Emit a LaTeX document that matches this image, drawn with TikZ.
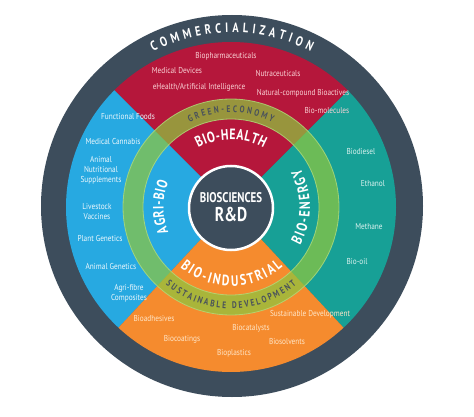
\documentclass[tikz,border=0pt]{standalone}
\usepackage{fontspec}
\setmainfont{PT Sans}
\newfontfamily\cond[FakeStretch=0.85]{PT Sans}
\newfontfamily\condb[FakeStretch=0.78]{PT Sans}
\usetikzlibrary{decorations.text}
\definecolor{slate}{HTML}{3D4D5C}
\definecolor{hred}{HTML}{B5173B}
\definecolor{ablue}{HTML}{27A9E1}
\definecolor{eteal}{HTML}{17A096}
\definecolor{iorange}{HTML}{F58B2E}
\definecolor{ringgreen}{HTML}{8DC63F}
\definecolor{ringedge}{HTML}{B2DC7C}
\definecolor{tred}{HTML}{FAD3D6}
\definecolor{tblue}{HTML}{EEF8FD}
\definecolor{tteal}{HTML}{DDF3F0}
\definecolor{torange}{HTML}{FFE6C8}
\definecolor{ringtext}{HTML}{4A525B}
\newcommand\lblfont{\condb\bfseries\fontsize{15}{15}\selectfont}
\newcommand\ringfont{\condb\bfseries\fontsize{9.5}{10}\selectfont}
\newcommand\comfont{\condb\bfseries\fontsize{13.5}{13.5}\selectfont}
\begin{document}
\begin{tikzpicture}[x=1pt,y=1pt,
  item/.style={font=\cond\fontsize{8.6}{10}\selectfont, align=center, inner sep=0pt}]
\useasboundingbox (0,0) rectangle (474,416);
\coordinate (O) at (232,210);
\coordinate (C) at (231,209);
% outer ring
\fill[slate] (O) circle[radius=191];
% sectors
\fill[eteal] (C) -- ([shift={(-47:165)}]C) arc[start angle=-47, end angle=45, radius=165] -- cycle;
\fill[hred] (C) -- ([shift={(45:165)}]C) arc[start angle=45, end angle=135, radius=165] -- cycle;
\fill[ablue] (C) -- ([shift={(135:165)}]C) arc[start angle=135, end angle=227, radius=165] -- cycle;
\fill[iorange] (C) -- ([shift={(227:165)}]C) arc[start angle=227, end angle=313, radius=165] -- cycle;
% green ring
\fill[ringgreen, fill opacity=0.72, even odd rule] (C) circle[radius=108] (C) circle[radius=88];
\draw[ringedge, line width=0.8pt, opacity=0.8] (C) circle[radius=108] (C) circle[radius=88];
% curved labels
\path[decorate, decoration={text along path, text={|\comfont|COMMERCIALIZATION}, text align={fit to path}, text color=white}]
  ([shift={(117:173.5)}]O) arc[start angle=117, end angle=63, radius=173.5];
\path[decorate, decoration={text along path, text={|\ringfont|GREEN-ECONOMY}, text align={fit to path}, text color=ringtext}]
  ([shift={(116:94.5)}]C) arc[start angle=116, end angle=64, radius=94.5];
\path[decorate, decoration={text along path, text={|\ringfont|SUSTAINABLE DEVELOPMENT}, text align={fit to path}, text color=ringtext}]
  ([shift={(230:101.5)}]C) arc[start angle=230, end angle=310, radius=101.5];
\path[decorate, decoration={text along path, text={|\lblfont|BIO-HEALTH}, text align={fit to path}, text color=white}]
  ([shift={(119:67.5)}]C) arc[start angle=119, end angle=61, radius=67.5];
\path[decorate, decoration={text along path, text={|\lblfont|AGRI-BIO}, text align={fit to path}, text color=white}]
  ([shift={(202:67.5)}]C) arc[start angle=202, end angle=158, radius=67.5];
\path[decorate, decoration={text along path, text={|\lblfont|BIO-ENERGY}, text align={fit to path}, text color=white}]
  ([shift={(-29:79)}]C) arc[start angle=-29, end angle=29, radius=79];
\path[decorate, decoration={text along path, text={|\lblfont|BIO-INDUSTRIAL}, text align={fit to path}, text color=white}]
  ([shift={(230:79)}]C) arc[start angle=230, end angle=311, radius=79];
% red items
\node[item, text=tred] (bph) at (226,360) {Biopharmaceuticals};
\node[item, text=tred] (med) at (177,345) {Medical Devices};
\node[item, text=tred] (nut) at (278,343) {Nutraceuticals};
\node[item, text=tred] (ehe) at (199,329) {eHealth/Artificial Intelligence};
\node[item, text=tred] (nat) at (303,323) {Natural-compound Bioactives};
\node[item, text=tred] (bmo) at (327,305) {Bio-molecules};
% blue items
\node[item, text=tblue] (ffo) at (128,299) {Functional Foods};
\node[item, text=tblue] (mca) at (113,275) {Medical Cannabis};
\node[item, text=tblue] (ans) at (101,246) {Animal\\Nutritional\\Supplements};
\node[item, text=tblue] (lva) at (97,204) {Livestock\\Vaccines};
\node[item, text=tblue] (pge) at (100,178) {Plant Genetics};
\node[item, text=tblue] (age) at (111,150) {Animal Genetics};
\node[item, text=tblue] (afc) at (129,122.5) {Agri-fibre\\Composites};
% orange items
\node[item, text=torange] (bad) at (154,97) {Bioadhesives};
\node[item, text=torange] (bco) at (182,77) {Biocoatings};
\node[item, text=torange] (bca) at (251,88) {Biocatalysts};
\node[item, text=torange] (bpl) at (234,63) {Bioplastics};
\node[item, text=torange] (bso) at (287,74) {Biosolvents};
\node[item, text=torange] (sde) at (310,102) {Sustainable Development};
% teal items
\node[item, text=tteal] (bdi) at (361,264) {Biodiesel};
\node[item, text=tteal] (eth) at (373,232) {Ethanol};
\node[item, text=tteal] (met) at (369,189) {Methane};
\node[item, text=tteal] (boi) at (357,154) {Bio-oil};
% core
\node[circle, fill=slate, draw=white, line width=2.5pt, minimum size=84pt, inner sep=0pt] (core) at (231,208) {};
\node[font=\condb\bfseries\fontsize{14}{15}\selectfont, text=white, inner sep=0pt] (bios) at (231,218) {BIOSCIENCES};
\node[font=\condb\bfseries\fontsize{20}{21}\selectfont, text=white, inner sep=0pt] (rnd) at (231,202) {R\&D};
\end{tikzpicture}
\end{document}
